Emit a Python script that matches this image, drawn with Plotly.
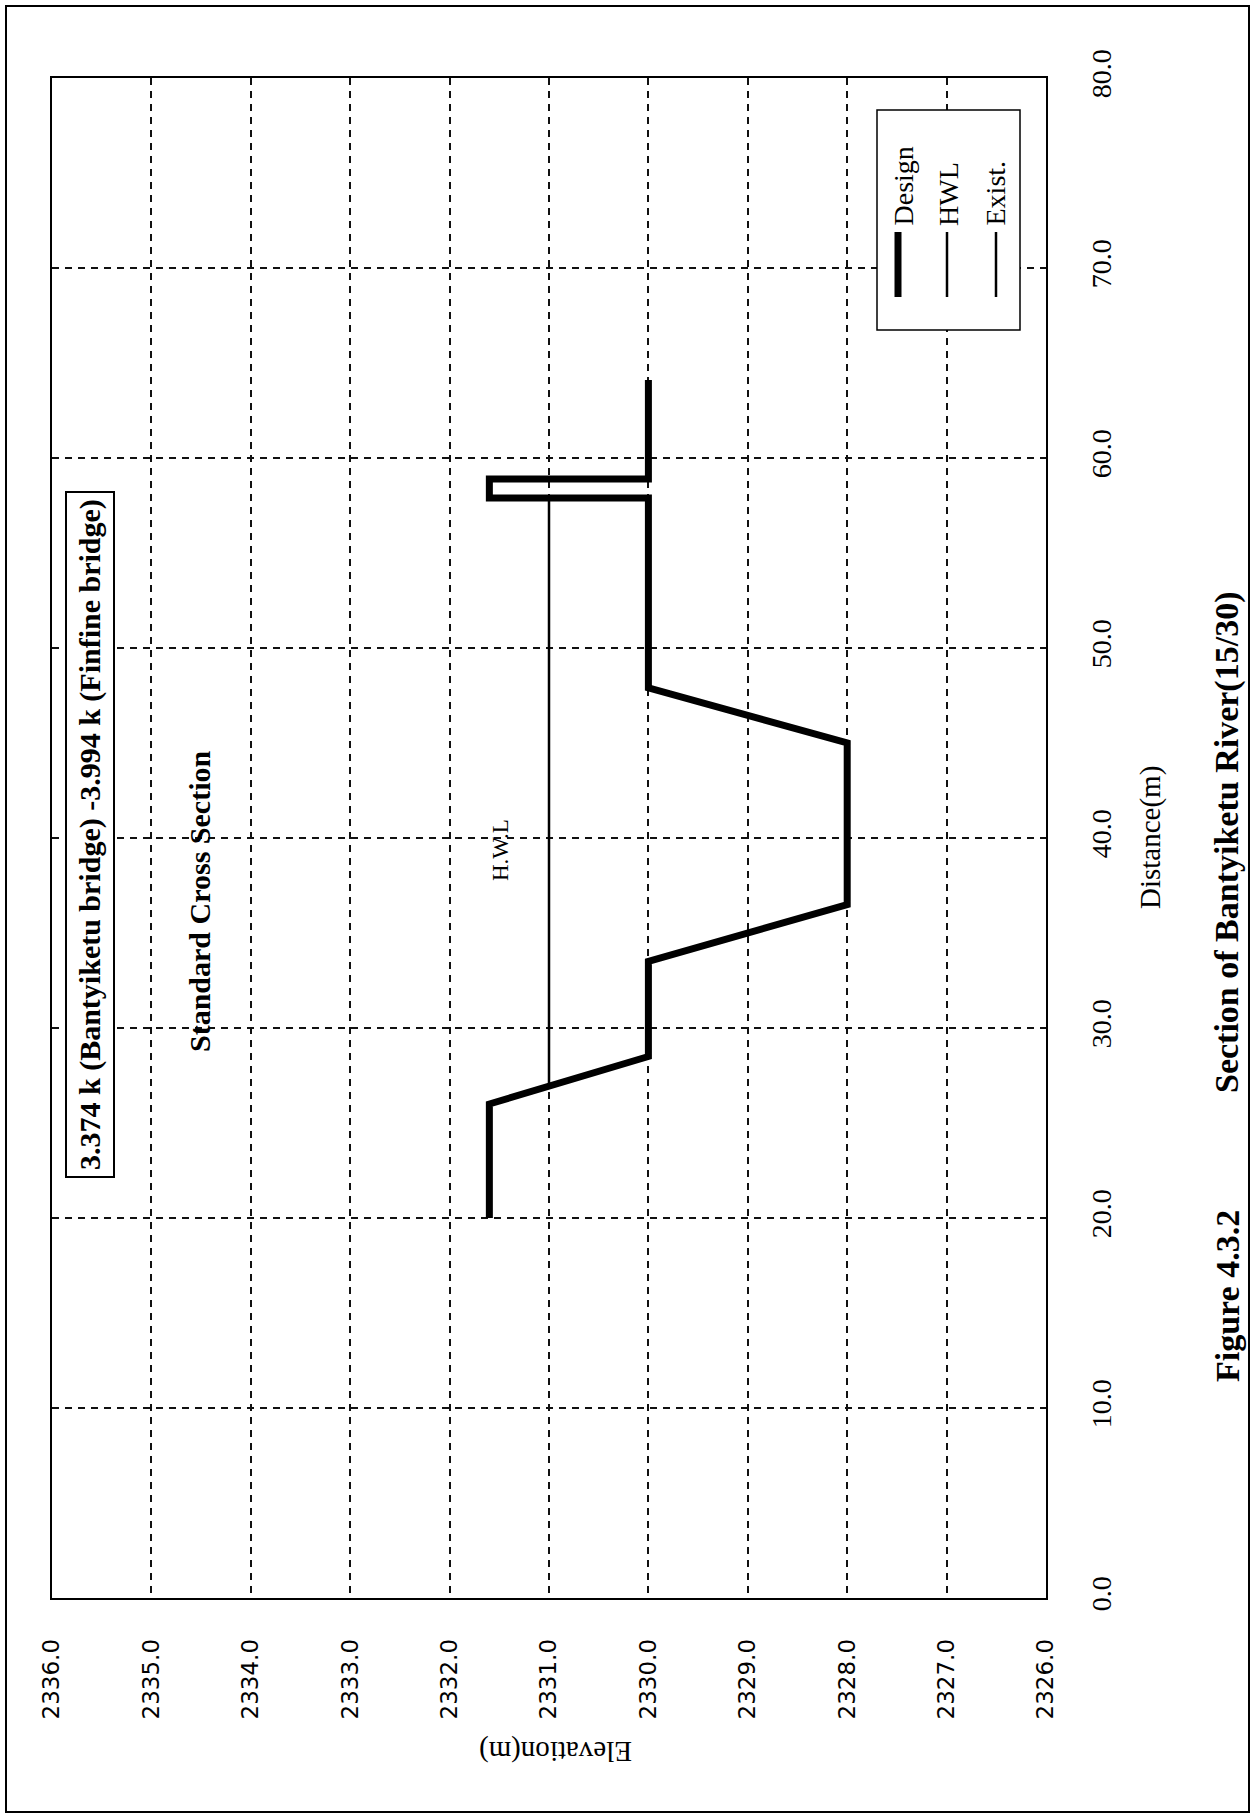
import plotly.graph_objects as go

# Standard cross section of the river channel: elevation (m) against distance (m).
# The sheet is laid out in landscape and turned a quarter turn, so distance runs
# up the page and elevation runs right-to-left along the bottom.
design_distance = [20.0, 26.0, 28.5, 33.5, 36.5, 45.0, 47.9, 57.9, 57.9, 58.9, 58.9, 64.1]
design_elevation = [2331.6, 2331.6, 2330.0, 2330.0, 2328.0, 2328.0, 2330.0, 2330.0,
                    2331.6, 2331.6, 2330.0, 2330.0]
hwl_distance = [27.0, 57.9]
hwl_elevation = [2331.0, 2331.0]
exist_distance = []
exist_elevation = []

elevation_ticks = [2336.0, 2335.0, 2334.0, 2333.0, 2332.0, 2331.0,
                   2330.0, 2329.0, 2328.0, 2327.0, 2326.0]
distance_ticks = [0.0, 10.0, 20.0, 30.0, 40.0, 50.0, 60.0, 70.0, 80.0]

SERIF = "Liberation Serif, Times New Roman, serif"
SANS = "DejaVu Sans, Verdana, sans-serif"

# page and plot-area geometry (pixels)
W, H = 1252, 1818
PL, PR, PT, PB = 52, 1046, 78, 1598


def px(x):
    return (x - PL) / (PR - PL)


def py(y):
    return (PB - y) / (PB - PT)


fig = go.Figure()
fig.add_trace(go.Scatter(x=design_elevation, y=design_distance, mode="lines",
                         name="Design", line=dict(color="black", width=7),
                         showlegend=False))
fig.add_trace(go.Scatter(x=hwl_elevation, y=hwl_distance, mode="lines",
                         name="HWL", line=dict(color="black", width=2.5),
                         showlegend=False))
fig.add_trace(go.Scatter(x=exist_elevation, y=exist_distance, mode="lines",
                         name="Exist.", line=dict(color="black", width=2.5),
                         showlegend=False))

shapes = []
# outer sheet frame
shapes.append(dict(type="rect", xref="paper", yref="paper", layer="above",
                   x0=px(6), x1=px(1249), y0=py(1812), y1=py(6),
                   line=dict(color="black", width=2)))

# legend box, drawn upright on the turned sheet
shapes.append(dict(type="rect", xref="paper", yref="paper", layer="above",
                   x0=px(877), x1=px(1020), y0=py(330), y1=py(110),
                   fillcolor="white", line=dict(color="black", width=1.5)))
legend_items = [("Design", 898, 7, 903), ("HWL", 947, 2.5, 948), ("Exist.", 996, 2.5, 995)]
annotations = []
for label, lx, lw, tx in legend_items:
    shapes.append(dict(type="line", xref="paper", yref="paper", layer="above",
                       x0=px(lx), x1=px(lx), y0=py(297), y1=py(232),
                       line=dict(color="black", width=lw)))
    annotations.append(dict(text=label, xref="paper", yref="paper",
                            x=px(tx), y=py(228), xanchor="center", yanchor="bottom",
                            textangle=-90, showarrow=False,
                            font=dict(family=SERIF, size=28, color="black")))

annotations += [
    dict(text="3.374 k (Bantyiketu bridge) -3.994 k (Finfine bridge)",
         xref="paper", yref="paper", x=px(90), y=py(835),
         xanchor="center", yanchor="middle", textangle=-90, showarrow=False,
         bordercolor="black", borderwidth=2, borderpad=6, bgcolor="white",
         font=dict(family=SERIF, size=30, color="black", weight="bold")),
    dict(text="Standard Cross Section", xref="paper", yref="paper",
         x=px(199), y=py(902), xanchor="center", yanchor="middle",
         textangle=-90, showarrow=False,
         font=dict(family=SERIF, size=30, color="black", weight="bold")),
    dict(text="H.W.L", xref="paper", yref="paper", x=px(500), y=py(850),
         xanchor="center", yanchor="middle", textangle=-90, showarrow=False,
         font=dict(family=SERIF, size=23, color="black")),
    dict(text="Distance(m)", xref="paper", yref="paper", x=px(1150), y=py(838),
         xanchor="center", yanchor="middle", textangle=-90, showarrow=False,
         font=dict(family=SERIF, size=29, color="black")),
    dict(text="Elevation(m)", xref="paper", yref="paper", x=px(556), y=py(1752),
         xanchor="center", yanchor="middle", textangle=180, showarrow=False,
         font=dict(family=SERIF, size=29, color="black")),
    dict(text="Figure 4.3.2", xref="paper", yref="paper", x=px(1227), y=py(1296),
         xanchor="center", yanchor="middle", textangle=-90, showarrow=False,
         font=dict(family=SERIF, size=34, color="black", weight="bold")),
    dict(text="Section of Bantyiketu River(15/30)", xref="paper", yref="paper",
         x=px(1227), y=py(843), xanchor="center", yanchor="middle",
         textangle=-90, showarrow=False,
         font=dict(family=SERIF, size=34, color="black", weight="bold")),
]

grid = dict(showgrid=True, gridcolor="#111111", gridwidth=1.5, griddash="7px,6px",
            zeroline=False, showline=True, mirror=True, linecolor="black",
            linewidth=1.5, ticks="")

fig.update_layout(
    width=W, height=H,
    margin=dict(l=PL, r=W - PR, t=PT, b=H - PB),
    paper_bgcolor="white", plot_bgcolor="white",
    showlegend=False,
    xaxis=dict(range=[elevation_ticks[0], elevation_ticks[-1]],
               tickvals=elevation_ticks, tickformat=".1f", tickangle=-90,
               ticklabelstandoff=30,
               tickfont=dict(family=SANS, size=23, color="black"), **grid),
    yaxis=dict(range=[distance_ticks[0], distance_ticks[-1]], side="right",
               tickvals=distance_ticks, tickformat=".1f", tickangle=-90,
               ticklabelstandoff=30,
               tickfont=dict(family=SERIF, size=28, color="black"), **grid),
    shapes=shapes,
    annotations=annotations,
)

fig.write_html("out.html")
